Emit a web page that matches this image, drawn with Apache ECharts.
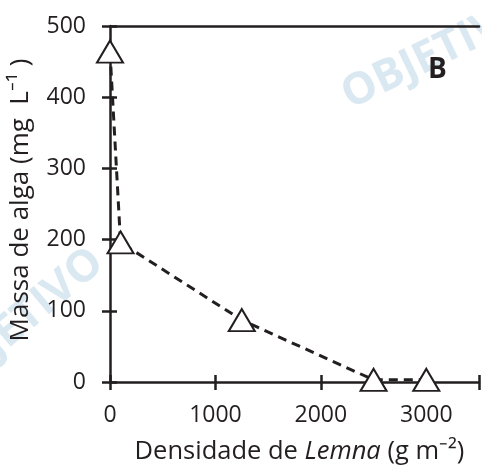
<!DOCTYPE html>
<html><head><meta charset="utf-8">
<script src="https://cdn.jsdelivr.net/npm/echarts@6/dist/echarts.min.js"></script>
<style>html,body{margin:0;padding:0;background:#fff}#c{width:482px;height:470px}</style>
</head><body><div id="c"></div>
<script>
const densidade = [0, 100, 1250, 2500, 3000];
const massa = [464, 196, 87, 3, 3];
const xTicks = [0, 1000, 2000, 3000];
const yTicks = [0, 100, 200, 300, 400, 500];

const ink = '#231f20';
const font = 'Open Sans';
const chart = echarts.init(document.getElementById('c'));
const baseX = {type: 'value', min: 0, max: 3500, interval: 1000, splitLine: {show: false}};
chart.setOption({
  animation: false,
  graphic: [
    {type: 'text', left: 335, top: -12, rotation: 0.45, z: -10, style: {text: 'OBJETIVO', font: 'bold 44px "Open Sans"', fill: '#dae9f1'}},
    {type: 'text', left: -75, top: 240, rotation: 0.7, z: -10, style: {text: 'OBJETIVO', font: 'bold 44px "Open Sans"', fill: '#dae9f1'}},
    {type: 'text', left: 428, top: 56, style: {text: 'B', font: 'bold 28px "Open Sans"', fill: ink}}
  ],
  grid: {left: 110, right: 0, top: 26, bottom: 84, containLabel: false},
  xAxis: [
    Object.assign({}, baseX, {
      position: 'bottom',
      axisLine: {onZero: false, lineStyle: {color: ink, width: 2.5}},
      axisTick: {length: 8, lineStyle: {color: ink, width: 2.5}},
      axisLabel: {margin: 22, color: ink, fontFamily: font, fontSize: 23,
        formatter: v => xTicks.includes(v) ? String(v) : ''},
      name: 'Densidade de {i|Lemna} (g m⁻²)',
      nameLocation: 'middle', nameGap: 57,
      nameTextStyle: {color: ink, fontFamily: font, fontSize: 25.5, padding: [0, 0, 0, 10],
        rich: {i: {fontStyle: 'italic', color: ink, fontFamily: font, fontSize: 25.5}}}
    }),
    Object.assign({}, baseX, {
      position: 'bottom',
      axisLine: {show: false},
      axisTick: {inside: true, length: 7, lineStyle: {color: ink, width: 2.5}},
      axisLabel: {show: false}
    }),
    Object.assign({}, baseX, {
      position: 'top',
      axisLine: {show: true, onZero: false, lineStyle: {color: ink, width: 2.5}},
      axisTick: {show: false},
      axisLabel: {show: false}
    })
  ],
  yAxis: [
    {
      type: 'value', min: 0, max: 500, interval: 100, position: 'left',
      splitLine: {show: false},
      axisLine: {show: true, onZero: false, lineStyle: {color: ink, width: 2.5}},
      axisTick: {show: true, length: 8, lineStyle: {color: ink, width: 2.5}},
      axisLabel: {margin: 24, color: ink, fontFamily: font, fontSize: 23,
        formatter: v => yTicks.includes(v) ? String(v) : ''},
      name: 'Massa de alga (mg  L⁻¹ )',
      nameLocation: 'middle', nameGap: 76, nameRotate: 90,
      nameTextStyle: {color: ink, fontFamily: font, fontSize: 26, padding: [0, 0, 0, 8]}
    },
    {
      type: 'value', min: 0, max: 500, interval: 100, position: 'left',
      splitLine: {show: false},
      axisLine: {show: false},
      axisTick: {show: true, inside: true, length: 7, lineStyle: {color: ink, width: 2.5}},
      axisLabel: {show: false}
    }
  ],
  series: [{
    type: 'line',
    xAxisIndex: 0, yAxisIndex: 0,
    data: densidade.map((d, i) => [d, massa[i]]),
    symbol: 'triangle', symbolSize: [26, 22],
    itemStyle: {color: '#fff', borderColor: ink, borderWidth: 2},
    lineStyle: {color: ink, width: 3, type: [9, 6]},
    clip: false, z: 5
  }]
});
</script></body></html>
